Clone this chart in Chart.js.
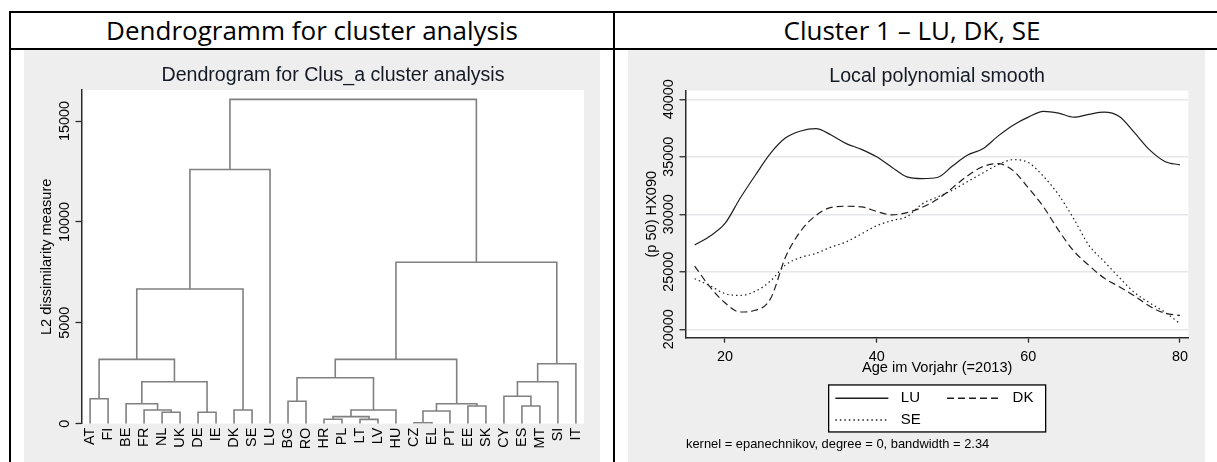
<!DOCTYPE html>
<html>
<head>
<meta charset="utf-8">
<script src="https://cdn.jsdelivr.net/npm/chart.js@4.4.1/dist/chart.umd.min.js"></script>
<style>
  html, body { margin: 0; padding: 0; background: #fff; }
  body { position: relative; width: 1217px; height: 462px; overflow: hidden; font-family: "Open Sans", Lato, sans-serif; }
  .rule { position: absolute; background: #000; }
  .head { position: absolute; top: 13px; height: 35px; line-height: 35px; text-align: center; font-size: 26px; color: #000; white-space: nowrap; }
  .panel { position: absolute; top: 50px; height: 412px; background: #eeeeee; }
  .panel canvas { display: block; }
</style>
</head>
<body>
<div class="rule" style="left:9px;top:11px;width:1208px;height:2px"></div>
<div class="rule" style="left:9px;top:48px;width:1208px;height:2px"></div>
<div class="rule" style="left:9px;top:11px;width:2px;height:451px"></div>
<div class="rule" style="left:613px;top:11px;width:2px;height:451px"></div>
<div class="head" style="left:11px;width:602px">Dendrogramm for cluster analysis</div>
<div class="head" style="left:615px;width:594px">Cluster 1 – LU, DK, SE</div>

<div class="panel" style="left:24px;width:576px"><canvas id="dendro" width="576" height="412"></canvas></div>
<div class="panel" style="left:628px;width:577px"><canvas id="smooth" width="577" height="412"></canvas></div>

<script>
// ---- dendrogram: leaves in plotted order, merges as (left node, right node, height)
// nodes 0-27 are leaves, node 28+k is the cluster created by merge k
const LEAVES = ['AT','FI','BE','FR','NL','UK','DE','IE','DK','SE','LU','BG','RO','HR',
                'PL','LT','LV','HU','CZ','EL','PT','EE','SK','CY','ES','MT','SI','IT'];
const MERGE_LEFT   = [18, 13, 15, 29, 4, 6, 28, 3, 8, 31, 21, 24, 2, 34, 11, 0, 23, 40, 44, 42, 46, 43, 47, 49, 50, 51, 53];
const MERGE_RIGHT  = [19, 14, 16, 30, 5, 7, 20, 32, 9, 17, 22, 25, 35, 38, 12, 1, 39, 33, 26, 37, 27, 45, 41, 36, 48, 10, 52];
const MERGE_HEIGHT = [50, 220, 215, 350, 565, 565, 630, 680, 680, 680, 877, 877, 990, 990, 1110, 1240, 1357,
                      2080, 2080, 2280, 2973, 3190, 3190, 6675, 8000, 12600, 16075];
const DENDRO_Y_TICKS = [0, 5000, 10000, 15000];

// ---- local polynomial smooth of (p 50) HX090 by age
const AGE = [16, 18, 20, 22, 24, 26, 28, 30, 32, 34, 36, 38, 40, 42, 44, 46, 48,
             50, 52, 54, 56, 58, 60, 62, 64, 66, 68, 70, 72, 74, 76, 78, 80];
const LU = [27330, 28100, 29200, 31400, 33400, 35300, 36650, 37250, 37450, 36900, 36150, 35650, 35000, 34100, 33250, 33100, 33200,
            34200, 35150, 35700, 36800, 37750, 38450, 38950, 38800, 38450, 38700, 38880, 38500, 37100, 35600, 34600, 34300];
const DK = [25500, 23700, 22300, 21500, 21650, 22650, 26300, 28550, 29900, 30600, 30700, 30650, 30250, 29950, 30150, 30600, 31300,
            32300, 33350, 34150, 34400, 33800, 32300, 30650, 28600, 26800, 25550, 24450, 23700, 22900, 22000, 21400, 21200];
const SE = [24400, 23800, 23100, 22950, 23300, 24200, 25600, 26250, 26600, 27150, 27600, 28300, 29000, 29450, 29800, 30900, 31500,
            32100, 32850, 33600, 34300, 34750, 34500, 33300, 31700, 29600, 27300, 25900, 24500, 23200, 22300, 21500, 20500];
const SMOOTH_X_TICKS = [20, 40, 60, 80];
const SMOOTH_Y_TICKS = [20000, 25000, 30000, 35000, 40000];
const FOOTNOTE = 'kernel = epanechnikov, degree = 0, bandwidth = 2.34';

const SANS = '"Liberation Sans", Arial, sans-serif';
const AXIS = '#2a2a2a';
const INK = '#000';
const TITLE_INK = '#141a24';
Chart.defaults.font.family = SANS;
Chart.defaults.color = INK;

// plain integer tick labels, no thousands separator
const plainNumber = v => String(v);

// white plot region on the grey graph region
const plotBg = {
  id: 'plotBg',
  beforeDraw(chart) {
    const { ctx, chartArea: a } = chart;
    ctx.save();
    ctx.fillStyle = '#fff';
    ctx.fillRect(a.left, a.top, a.right - a.left, a.bottom - a.top);
    ctx.restore();
  }
};

// ---- build the dendrogram links
const nodeX = LEAVES.map((_, i) => i + 1);
const nodeH = LEAVES.map(() => 0);
const linkSets = MERGE_HEIGHT.map((h, k) => {
  const a = MERGE_LEFT[k], b = MERGE_RIGHT[k];
  nodeX.push((nodeX[a] + nodeX[b]) / 2);
  nodeH.push(h);
  return {
    data: [
      { x: nodeX[a], y: nodeH[a] },
      { x: nodeX[a], y: h },
      { x: nodeX[b], y: h },
      { x: nodeX[b], y: nodeH[b] }
    ],
    borderColor: '#808080',
    borderWidth: 1.6,
    pointRadius: 0,
    tension: 0,
    fill: false
  };
});

new Chart(document.getElementById('dendro'), {
  type: 'line',
  data: { datasets: linkSets },
  options: {
    responsive: false,
    animation: false,
    events: [],
    layout: { padding: { left: 0, right: 16, top: 0, bottom: 0 } },
    plugins: {
      legend: { display: false },
      tooltip: { enabled: false },
      title: {
        display: true,
        fullSize: false,
        text: 'Dendrogram for Clus_a cluster analysis',
        color: TITLE_INK,
        font: { family: SANS, size: 19.6, weight: 'normal' },
        padding: { top: 14.2, bottom: 2.3 }
      }
    },
    scales: {
      x: {
        type: 'linear',
        min: 0.55,
        max: 28.45,
        afterBuildTicks: s => { s.ticks = LEAVES.map((_, i) => ({ value: i + 1 })); },
        afterFit: s => { s.height = 38.3; },
        grid: { display: false, drawTicks: false, tickLength: 0 },
        border: { display: false },
        ticks: {
          autoSkip: false,
          minRotation: 90,
          maxRotation: 90,
          padding: 4,
          color: INK,
          font: { size: 14.4 },
          callback: v => LEAVES[v - 1] ?? ''
        }
      },
      y: {
        min: 0,
        max: 16540,
        afterBuildTicks: s => { s.ticks = DENDRO_Y_TICKS.map(v => ({ value: v })); },
        afterFit: s => { s.width = 58; },
        grid: { drawOnChartArea: false, drawTicks: true, tickLength: 6.5, tickColor: AXIS, tickWidth: 1.3 },
        border: { display: true, color: AXIS, width: 1.5 },
        ticks: { minRotation: 90, maxRotation: 90, crossAlign: 'center', padding: -9.5, color: INK, font: { size: 14.4 }, callback: plainNumber },
        title: {
          display: true,
          text: 'L2 dissimilarity measure',
          color: INK,
          font: { size: 14.6 },
          padding: { top: 14.7, bottom: 14.7 }
        }
      }
    }
  },
  plugins: [plotBg]
});

// ---- boxed key and kernel note under the smooth plot
const keyBox = {
  id: 'keyBox',
  afterDraw(chart) {
    const { ctx, chartArea: a } = chart;
    const w = 217, h = 47;
    const left = (a.left + a.right) / 2 - w / 2;
    const top = a.bottom + 47.3;
    ctx.save();
    ctx.fillStyle = '#fff';
    ctx.fillRect(left, top, w, h);
    ctx.strokeStyle = '#000';
    ctx.lineWidth = 1.3;
    ctx.strokeRect(left, top, w, h);
    chart.data.datasets.forEach((ds, i) => {
      const col = i % 2, row = Math.floor(i / 2);
      const x0 = left + 6.7 + col * 111.7;
      const y = top + 13.3 + row * 21.7;
      ctx.setLineDash(ds.borderDash || []);
      ctx.strokeStyle = ds.borderColor;
      ctx.lineWidth = ds.borderWidth + 0.4;
      ctx.beginPath();
      ctx.moveTo(x0, y);
      ctx.lineTo(x0 + 53, y);
      ctx.stroke();
      ctx.setLineDash([]);
      ctx.fillStyle = INK;
      ctx.font = '15px ' + SANS;
      ctx.textBaseline = 'middle';
      ctx.textAlign = 'left';
      ctx.fillText(ds.label, x0 + 65.5, y);
    });
    ctx.font = '12.9px ' + SANS;
    ctx.fillStyle = INK;
    ctx.textBaseline = 'middle';
    ctx.fillText(FOOTNOTE, a.left, a.bottom + 106.6);
    ctx.restore();
  }
};

const series = (label, values, dash) => ({
  label,
  data: AGE.map((x, i) => ({ x, y: values[i] })),
  borderColor: '#1e1e1e',
  borderWidth: 1.2,
  borderDash: dash,
  pointRadius: 0,
  cubicInterpolationMode: 'monotone',
  fill: false
});

new Chart(document.getElementById('smooth'), {
  type: 'line',
  data: {
    datasets: [
      series('LU', LU, []),
      series('DK', DK, [7, 4]),
      series('SE', SE, [1.5, 3])
    ]
  },
  options: {
    responsive: false,
    animation: false,
    events: [],
    layout: { padding: { left: 0, right: 16.7, top: 0, bottom: 85 } },
    plugins: {
      legend: { display: false },
      tooltip: { enabled: false },
      title: {
        display: true,
        fullSize: false,
        text: 'Local polynomial smooth',
        color: TITLE_INK,
        font: { family: SANS, size: 19.6, weight: 'normal' },
        padding: { top: 14.9, bottom: 2.3 }
      }
    },
    scales: {
      x: {
        type: 'linear',
        min: 14.86,
        max: 81.1,
        afterBuildTicks: s => { s.ticks = SMOOTH_X_TICKS.map(v => ({ value: v })); },
        afterFit: s => { s.height = 39.35; },
        grid: { drawOnChartArea: false, drawTicks: true, tickLength: 5, tickColor: AXIS, tickWidth: 1.3 },
        border: { display: true, color: AXIS, width: 1.5 },
        ticks: { maxRotation: 0, padding: 5.4, color: INK, font: { size: 14.4 }, callback: plainNumber },
        title: {
          display: true,
          text: 'Age im Vorjahr (=2013)',
          color: INK,
          font: { size: 14.6 },
          padding: { top: 0, bottom: 0 }
        }
      },
      y: {
        min: 19270,
        max: 40750,
        afterBuildTicks: s => { s.ticks = SMOOTH_Y_TICKS.map(v => ({ value: v })); },
        afterFit: s => { s.width = 58; },
        grid: { drawOnChartArea: true, color: '#e4e6e8', lineWidth: 1.5, drawTicks: true, tickLength: 6.5, tickColor: AXIS, tickWidth: 1.3 },
        border: { display: true, color: AXIS, width: 1.5 },
        ticks: { minRotation: 90, maxRotation: 90, crossAlign: 'center', padding: -9.5, color: INK, font: { size: 14.4 }, callback: plainNumber },
        title: {
          display: true,
          text: '(p 50) HX090',
          color: INK,
          font: { size: 14.6 },
          padding: { top: 15.1, bottom: 15.1 }
        }
      }
    }
  },
  plugins: [plotBg, keyBox]
});
</script>
</body>
</html>
